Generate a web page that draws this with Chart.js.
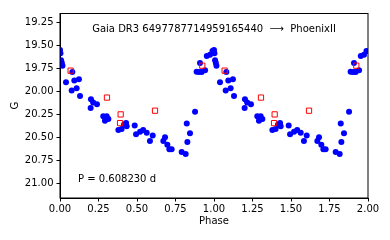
<!DOCTYPE html>
<html>
<head>
<meta charset="utf-8">
<script src="https://cdn.jsdelivr.net/npm/chart.js@4"></script>
<style>
  html, body { margin: 0; padding: 0; background: #fff; }
  #wrap { width: 390px; height: 240px; }
</style>
</head>
<body>
<div id="wrap"><canvas id="lcChart"></canvas></div>
<script>
// phase-folded light curve, one cycle; plotted twice (phase and phase + 1)
var gaiaPhase = [0.000, 0.003, 0.007, 0.012, 0.016, 0.039, 0.080, 0.093, 0.123, 0.076,
                 0.108, 0.130, 0.201, 0.215, 0.240, 0.199, 0.281, 0.303, 0.314, 0.292,
                 0.379, 0.400, 0.416, 0.429, 0.433, 0.485, 0.494, 0.520, 0.540, 0.563,
                 0.602, 0.584, 0.682, 0.671, 0.697, 0.710, 0.725, 0.790, 0.816, 0.823,
                 0.844, 0.827, 0.877, 0.887, 0.903, 0.909, 0.920, 0.942, 0.953, 0.974,
                 0.990];
var gaiaMag   = [19.55, 19.585, 19.66, 19.69, 19.72, 19.90, 19.79, 19.88, 19.867, 19.99,
                 19.966, 20.05, 20.085, 20.12, 20.14, 20.18, 20.27, 20.27, 20.30, 20.32,
                 20.42, 20.41, 20.36, 20.345, 20.38, 20.37, 20.465, 20.44, 20.42, 20.45,
                 20.48, 20.54, 20.50, 20.54, 20.58, 20.63, 20.63, 20.66, 20.68, 20.35,
                 20.455, 20.55, 20.22, 19.785, 19.79, 19.69, 19.79, 19.77, 19.615, 19.60,
                 19.56];
var otherPhase = [0.069, 0.305, 0.394, 0.390, 0.617, 0.924];
var otherMag   = [19.774, 20.067, 20.25, 20.345, 20.21, 19.72];

var xTicks = [0.00, 0.25, 0.50, 0.75, 1.00, 1.25, 1.50, 1.75, 2.00];
var yTicks = [19.25, 19.50, 19.75, 20.00, 20.25, 20.50, 20.75, 21.00];

var titleText = 'Gaia DR3 6497787714959165440  \u27F6  PhoenixII';
var periodText = 'P = 0.608230 d';

function folded(ph, mag) {
  var pts = [];
  for (var k = 0; k < 2; k++) {
    for (var i = 0; i < ph.length; i++) pts.push({x: ph[i] + k, y: mag[i]});
  }
  return pts;
}

var FONT = "'DejaVu Sans', sans-serif";
Chart.defaults.font.family = FONT;
Chart.defaults.font.size = 10;
Chart.defaults.color = '#000';

var framePlugin = {
  id: 'frame',
  afterDatasetsDraw: function(chart) {
    var a = chart.chartArea, c = chart.ctx;
    c.save();
    c.strokeStyle = '#000';
    c.lineWidth = 1;
    c.strokeRect(a.left, a.top, a.right - a.left, a.bottom - a.top);
    c.fillStyle = '#000';
    c.font = '10px ' + FONT;
    c.textBaseline = 'middle';
    c.textAlign = 'center';
    c.fillText(titleText, (a.left + a.right) / 2, 29);
    c.textAlign = 'left';
    c.fillText(periodText, 78, 179);
    c.restore();
  }
};

var ctx = document.getElementById('lcChart').getContext('2d');
var lcChart = new Chart(ctx, {
  type: 'scatter',
  data: {
    datasets: [{
        data: folded(otherPhase, otherMag),
        pointStyle: 'rect',
        pointRadius: 3.7,
        pointBackgroundColor: 'rgba(0,0,0,0)',
        pointBorderColor: '#ff0000',
        pointBorderWidth: 1,
        order: 0,
        clip: 0
      }, {
        data: folded(gaiaPhase, gaiaMag),
        pointStyle: 'circle',
        pointRadius: 3,
        pointBackgroundColor: '#0000ff',
        pointBorderColor: '#0000ff',
        pointBorderWidth: 0,
        order: 1,
        clip: 0
      }]
  },
  options: {
    responsive: true,
    maintainAspectRatio: false,
    animation: false,
    layout: { padding: { left: 0, right: 22, top: 13.5, bottom: 11 } },
    plugins: { legend: { display: false }, tooltip: { enabled: false } },
    scales: {
      x: {
        type: 'linear', min: 0, max: 2,
        afterBuildTicks: function(s) { s.ticks = xTicks.map(function(v) { return {value: v}; }); },
        afterFit: function(s) { s.height = 31; },
        ticks: { callback: function(v) { return v.toFixed(2); }, padding: 2, maxRotation: 0 },
        grid: { drawOnChartArea: false, tickLength: 3.5, tickColor: '#000' },
        border: { color: '#000' },
        title: { display: true, text: 'Phase', padding: { top: 0, bottom: 2 } }
      },
      y: {
        type: 'linear', reverse: true, min: 19.152, max: 21.16,
        afterBuildTicks: function(s) { s.ticks = yTicks.map(function(v) { return {value: v}; }); },
        afterFit: function(s) { s.width = 60; },
        ticks: { callback: function(v) { return v.toFixed(2); }, padding: 3 },
        grid: { drawOnChartArea: false, tickLength: 3.5, tickColor: '#000' },
        border: { color: '#000' },
        title: { display: true, text: 'G', padding: { top: 9, bottom: 0 } }
      }
    }
  },
  plugins: [framePlugin]
});
</script>
</body>
</html>
